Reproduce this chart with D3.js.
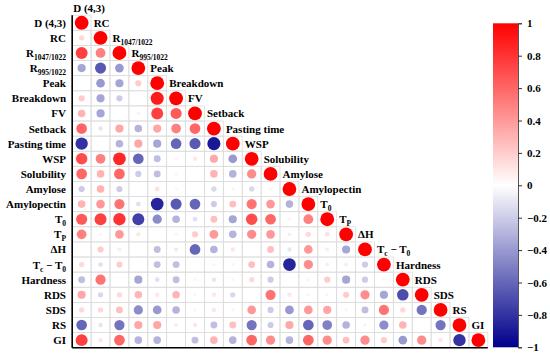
<!DOCTYPE html>
<html>
<head>
<meta charset="utf-8">
<script src="https://cdn.jsdelivr.net/npm/d3@7"></script>
<style>
body { margin: 0; background: #fff; }
text { font-family: "Liberation Serif", "Times New Roman", serif; font-weight: bold; fill: #000; }
</style>
</head>
<body>
<div id="container"></div>
<script>
// variable names, pieces with a 1 are drawn as subscripts
var variables = [
	[["D (4,3)"]], [["RC"]], [["R"], ["1047/1022", 1]], [["R"], ["995/1022", 1]],
	[["Peak"]], [["Breakdown"]], [["FV"]], [["Setback"]], [["Pasting time"]],
	[["WSP"]], [["Solubility"]], [["Amylose"]], [["Amylopectin"]],
	[["T"], ["0", 1]], [["T"], ["P", 1]], [["\u0394H"]], [["T"], ["c", 1], [" \u2212 T"], ["0", 1]],
	[["Hardness"]], [["RDS"]], [["SDS"]], [["RS"]], [["GI"]]
];

// lower triangle, row i holds correlations with columns 0..i-1
var corrRows = [
	[],
	[0.15],
	[0.75, 0.5],
	[-0.35, -0.65, -0.4],
	[0.02, -0.4, -0.35, 0.2],
	[0.2, -0.35, -0.2, 0.02, 0.9],
	[0.3, -0.35, 0, -0.05, 0.75, 0.65],
	[0.6, -0.1, 0.35, -0.3, 0.35, 0.5, 0.6],
	[-0.8, 0, -0.3, 0.35, -0.35, -0.6, -0.65, -0.9],
	[0.7, 0.5, 0.85, -0.6, -0.25, 0.05, 0.1, 0.35, -0.4],
	[0.6, 0.3, 0.6, -0.2, -0.25, 0.05, 0, 0.3, -0.3, 0.45],
	[-0.2, 0.3, -0.2, 0, 0.12, 0.05, 0, -0.15, 0.05, -0.15, 0.05],
	[0.3, 0.4, 0.55, -0.12, -0.85, -0.65, -0.6, -0.2, 0.25, 0.55, 0.4, -0.3],
	[0.65, 0.75, 0.8, -0.75, -0.45, -0.3, -0.12, 0.25, -0.35, 0.7, 0.6, 0.05, 0.5],
	[0.5, 0.05, 0.4, 0.1, 0, 0.05, 0.2, 0.4, -0.3, 0.45, 0.4, 0.08, 0.15, 0.12],
	[0, 0.2, 0.08, 0, -0.25, -0.08, -0.6, -0.3, 0.1, 0, 0.25, -0.1, 0.4, 0.08, -0.35],
	[0.15, -0.12, 0.2, 0, -0.25, -0.25, 0, 0.05, 0.05, 0.25, -0.3, -0.85, 0.45, 0.08, 0.08, -0.2],
	[-0.25, 0.55, 0, -0.35, -0.12, -0.25, 0.05, -0.1, 0.05, 0.15, -0.2, 0, 0.05, 0.2, -0.35, -0.2, 0.05],
	[0.35, -0.15, 0.15, 0.3, 0.1, 0.3, 0.05, 0.1, -0.15, 0, 0.55, 0.1, 0.05, 0.05, 0.2, 0.45, -0.35, -0.7],
	[0.15, 0.15, 0.25, -0.45, -0.4, -0.3, 0.05, 0.1, 0.05, 0.4, -0.2, -0.4, 0.4, 0.35, 0.05, -0.25, 0.55, 0.15, -0.55],
	[-0.6, -0.1, -0.55, 0.35, 0.35, 0.08, 0.1, -0.25, 0.25, -0.55, -0.2, 0.35, -0.6, -0.5, -0.3, -0.05, -0.45, 0.3, 0, -0.55],
	[0.75, 0.1, 0.6, -0.3, -0.3, 0, -0.25, 0.3, -0.3, 0.6, 0.45, -0.3, 0.6, 0.45, 0.25, 0.45, 0.2, -0.4, 0.45, 0.1, -0.8]
];

var legendTicks = [1, 0.8, 0.6, 0.4, 0.2, 0, -0.2, -0.4, -0.6, -0.8, -1];

var width = 550, height = 357;
var n = variables.length;

var cells = [];
corrRows.forEach(function(row, i) {
	row.forEach(function(v, j) { cells.push({row: i, col: j, value: v}); });
	cells.push({row: i, col: i, value: 1});
});

var x = d3.scaleBand().domain(d3.range(n)).range([72.2, 487.8]);
var y = d3.scaleBand().domain(d3.range(n)).range([15.2, 347.7]);
var color = d3.scaleLinear().domain([-1, 0, 1]).range(["#00008B", "#ffffff", "#ff0000"]);
var radius = d3.scaleSqrt().domain([0, 1]).range([0, 6.9]);

var svg = d3.select("#container").append("svg")
	.attr("width", width)
	.attr("height", height);

function writeLabel(sel, parts) {
	var shifted = false;
	parts.forEach(function(p) {
		var t = sel.append("tspan").text(p[0]);
		if (p[1]) {
			t.attr("font-size", 7.5).attr("dy", shifted ? 0 : 3);
			shifted = true;
		} else if (shifted) {
			t.attr("dy", -3);
			shifted = false;
		}
	});
}

// grid cells
svg.append("g").selectAll("rect")
	.data(cells)
	.enter().append("rect")
	.attr("x", function(d) { return x(d.col); })
	.attr("y", function(d) { return y(d.row); })
	.attr("width", x.bandwidth())
	.attr("height", y.bandwidth())
	.attr("fill", "none")
	.attr("stroke", "#dcdcdc")
	.attr("stroke-width", 0.8);

// circles
svg.append("g").selectAll("circle")
	.data(cells)
	.enter().append("circle")
	.attr("cx", function(d) { return x(d.col) + x.bandwidth() / 2; })
	.attr("cy", function(d) { return y(d.row) + y.bandwidth() / 2; })
	.attr("r", function(d) { return radius(Math.abs(d.value)); })
	.attr("fill", function(d) { return color(d.value); });

// left and bottom frame
svg.append("line")
	.attr("x1", x.range()[0]).attr("x2", x.range()[0])
	.attr("y1", y.range()[0]).attr("y2", y.range()[1])
	.attr("stroke", "#000").attr("stroke-width", 1.6);
svg.append("line")
	.attr("x1", x.range()[0]).attr("x2", x.range()[1])
	.attr("y1", y.range()[1]).attr("y2", y.range()[1])
	.attr("stroke", "#000").attr("stroke-width", 1.6);

// left labels
svg.append("g").selectAll("text")
	.data(variables)
	.enter().append("text")
	.attr("x", 66)
	.attr("y", function(d, i) { return y(i) + y.bandwidth() / 2 + 4; })
	.attr("text-anchor", "end")
	.attr("font-size", 11)
	.each(function(d) { writeLabel(d3.select(this), d); });

// diagonal labels
svg.append("g").selectAll("text")
	.data(variables)
	.enter().append("text")
	.attr("x", function(d, i) { return i == 0 ? x(0) + 1 : x(i - 1) + x.bandwidth() / 2 + 12; })
	.attr("y", function(d, i) { return i == 0 ? 11.5 : y(i - 1) + y.bandwidth() / 2 + 4; })
	.attr("font-size", 11)
	.each(function(d) { writeLabel(d3.select(this), d); });

// colour bar
var legY = d3.scaleLinear().domain([1, -1]).range([23.3, 347.3]);
var grad = svg.append("defs").append("linearGradient")
	.attr("id", "cbar")
	.attr("x1", 0).attr("y1", 0).attr("x2", 0).attr("y2", 1);
grad.selectAll("stop")
	.data(d3.range(1, -1.01, -0.1))
	.enter().append("stop")
	.attr("offset", function(d) { return (1 - d) / 2; })
	.attr("stop-color", function(d) { return color(d); });

svg.append("rect")
	.attr("x", 493)
	.attr("y", legY(1))
	.attr("width", 25)
	.attr("height", legY(-1) - legY(1))
	.attr("fill", "url(#cbar)");

var legAxis = d3.axisRight(legY)
	.tickValues(legendTicks)
	.tickSize(4)
	.tickFormat(function(d) { return d3.format("")(Math.round(d * 10) / 10); });

var axisG = svg.append("g")
	.attr("transform", "translate(518,0)")
	.call(legAxis);
axisG.select(".domain").attr("stroke", "#555");
axisG.selectAll(".tick line").attr("stroke", "#333");
axisG.selectAll(".tick text")
	.attr("x", 9)
	.attr("font-size", 11)
	.attr("font-family", "Liberation Serif, serif")
	.attr("fill", "#000");
</script>
</body>
</html>
